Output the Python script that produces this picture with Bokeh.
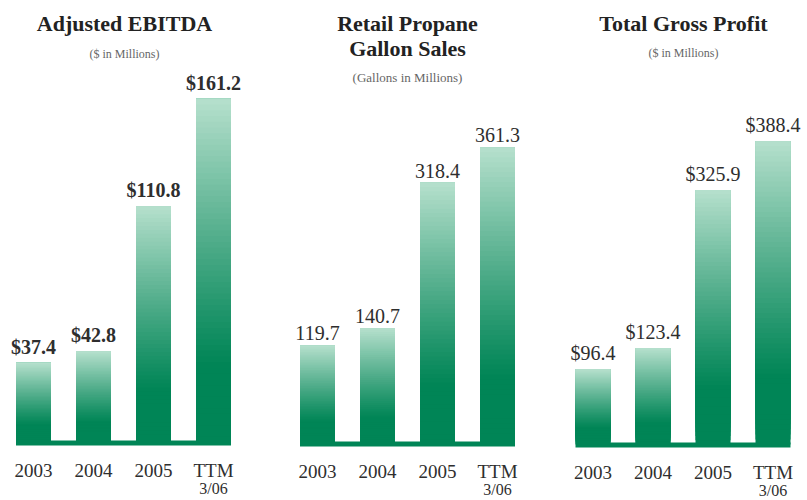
from bokeh.plotting import figure
from bokeh.layouts import row
from bokeh.models import Range1d, Label, ColumnDataSource
from bokeh.core.properties import value
from bokeh.embed import file_html
from bokeh.resources import INLINE

# ---------------- data ----------------
categories = ["2003", "2004", "2005", "TTM"]
category_sub = ["", "", "", "3/06"]
ebitda = [37.4, 42.8, 110.8, 161.2]
gallons = [119.7, 140.7, 318.4, 361.3]
gross_profit = [96.4, 123.4, 325.9, 388.4]
ebitda_labels = ["$37.4", "$42.8", "$110.8", "$161.2"]
gallons_labels = ["119.7", "140.7", "318.4", "361.3"]
gross_labels = ["$96.4", "$123.4", "$325.9", "$388.4"]

# ---------------- style ----------------
FONT = "Liberation Serif"
DARK = (0, 133, 86)
LIGHT = (182, 224, 205)
TEXT = "#2e2e2e"
SUB = "#666666"
H = 500
PX_PER_UNIT = 60.0
BAR_W = 35 / PX_PER_UNIT
N_SLICES = 60


def mix(t):
    f = max(0.0, min(1.0, (t - 0.22) / 0.78)) ** 1.1
    r = [round(DARK[i] + (LIGHT[i] - DARK[i]) * f) for i in range(3)]
    return "#%02x%02x%02x" % tuple(r)


def panel(width, fig_left, first_center, base_px, k, vals, labels,
          title_lines, title_cx, title_ys, subtitle, sub_y, sub_size, bold_vals):
    x_start = -(first_center - fig_left) / PX_PER_UNIT
    x_end = x_start + width / PX_PER_UNIT
    y_end = base_px / k
    y_start = -(H - base_px) / k

    p = figure(width=width, height=H, output_backend="svg", toolbar_location=None,
               x_range=Range1d(x_start, x_end), y_range=Range1d(y_start, y_end),
               x_axis_type=None, y_axis_type=None, min_border=0,
               outline_line_color=None, background_fill_color="white",
               border_fill_color="white")
    p.grid.visible = False

    def y_at(img_y):
        return y_end - img_y / k

    def x_at(img_x):
        return x_start + (img_x - fig_left) / PX_PER_UNIT

    # gradient bars: overlapping slices, each reaching to the bar top
    L, R, B, T, C = [], [], [], [], []
    for i, v in enumerate(vals):
        for j in range(N_SLICES):
            L.append(i - BAR_W / 2)
            R.append(i + BAR_W / 2)
            B.append(v * j / N_SLICES)
            T.append(v)
            C.append(mix((j + 0.5) / N_SLICES))
    src = ColumnDataSource(dict(left=L, right=R, bottom=B, top=T, color=C))
    p.quad(left="left", right="right", bottom="bottom", top="top",
           fill_color="color", line_color=None, source=src)

    # base strip
    p.quad(left=[-BAR_W / 2], right=[len(vals) - 1 + BAR_W / 2],
           bottom=[-3 / k], top=[2 / k], fill_color="#%02x%02x%02x" % DARK,
           line_color=None)

    xs = list(range(len(vals)))
    # value labels
    p.text(x=xs, y=vals, text=labels, text_align="center", text_baseline="bottom",
           y_offset=-5, text_font=value(FONT), text_font_size="20px",
           text_font_style="bold" if bold_vals else "normal", text_color=TEXT)
    # category labels
    p.text(x=xs, y=[0] * len(xs), text=categories, text_align="center",
           text_baseline="middle", y_offset=28, text_font=value(FONT),
           text_font_size="19px", text_color=TEXT)
    p.text(x=xs, y=[0] * len(xs), text=category_sub, text_align="center",
           text_baseline="middle", y_offset=46, text_font=value(FONT),
           text_font_size="16px", text_color=TEXT)

    # titles
    for line, ty in zip(title_lines, title_ys):
        p.add_layout(Label(x=x_at(title_cx), y=y_at(ty), text=line,
                           text_align="center", text_baseline="middle",
                           text_font=FONT, text_font_size="22px",
                           text_font_style="bold", text_color="#222222"))
    p.add_layout(Label(x=x_at(title_cx), y=y_at(sub_y), text=subtitle,
                       text_align="center", text_baseline="middle",
                       text_font=FONT, text_font_size=sub_size,
                       text_color=SUB))
    return p


p1 = panel(271, 0, 33, 442, 2.132, ebitda, ebitda_labels,
           ["Adjusted EBITDA"], 124, [23], "($ in Millions)", 53, "12px", True)
p2 = panel(264, 271, 317, 443, 0.8195, gallons, gallons_labels,
           ["Retail Propane", "Gallon Sales"], 407, [23, 48],
           "(Gallons in Millions)", 77, "13px", False)
p3 = panel(272, 535, 592.5, 444, 0.781, gross_profit, gross_labels,
           ["Total Gross Profit"], 683, [23], "($ in Millions)", 52, "12px", False)

layout = row(p1, p2, p3, spacing=0)

open("out.html", "w").write(file_html(layout, INLINE))
